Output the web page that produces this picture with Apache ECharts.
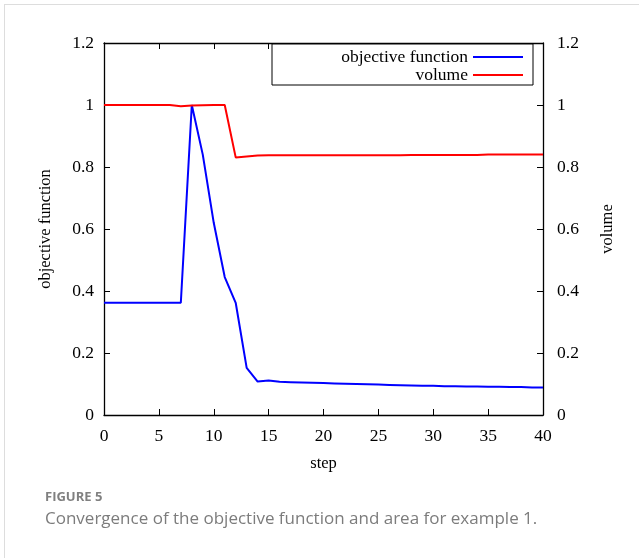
<!DOCTYPE html>
<html>
<head>
<meta charset="utf-8">
<script src="https://cdn.jsdelivr.net/npm/echarts@6/dist/echarts.min.js"></script>
<style>
  html, body { margin: 0; padding: 0; background: #fff; }
  #frame { position: absolute; left: 4px; top: 4px; width: 635px; height: 554px;
           border-top: 1px solid #ddd; border-left: 1px solid #ddd; box-sizing: border-box; }
  #chart { position: absolute; left: 0; top: 0; width: 639px; height: 558px; }
</style>
</head>
<body>
<div id="frame"></div>
<div id="chart"></div>
<script>
// 迭代步
const steps = []
for (let i = 0; i <= 40; i++) steps.push(i)

// 目标函数
const objective = [
    0.362, 0.362, 0.362, 0.362, 0.362, 0.362, 0.362, 0.362,
    1.0, 0.84, 0.62, 0.445, 0.362, 0.152, 0.108,
    0.111, 0.107, 0.106, 0.105, 0.104, 0.103, 0.102, 0.101, 0.100, 0.099,
    0.098, 0.097, 0.096, 0.095, 0.094, 0.094, 0.093, 0.093, 0.092, 0.092,
    0.091, 0.091, 0.090, 0.090, 0.089, 0.089
]

// 体积
const volume = [
    1.0, 1.0, 1.0, 1.0, 1.0, 1.0, 1.0, 0.996,
    0.998, 0.999, 1.0, 1.0, 0.831, 0.834, 0.837,
    0.838, 0.838, 0.838, 0.838, 0.838, 0.838, 0.838, 0.838, 0.838, 0.838,
    0.838, 0.838, 0.838, 0.839, 0.839, 0.839, 0.839, 0.839, 0.839, 0.839,
    0.840, 0.840, 0.840, 0.840, 0.840, 0.840
]

const serif = 'Liberation Serif'

function pairs(ys) {
    return steps.map((x, i) => [x, ys[i]])
}

const tickStyle = { show: true, inside: true, length: 6, lineStyle: { color: '#000', width: 1 } }
const lineStyle = { show: true, onZero: false, lineStyle: { color: '#000', width: 1.3 } }

const yAxisCommon = {
    type: 'value',
    min: 0,
    max: 1.2,
    interval: 0.2,
    nameLocation: 'middle',
    nameRotate: 90,
    nameTextStyle: { fontFamily: serif, fontSize: 16.5, color: '#000' },
    axisLine: lineStyle,
    axisTick: tickStyle,
    splitLine: { show: false }
}

const myChart = echarts.init(document.getElementById('chart'))

myChart.setOption({
    animation: false,
    title: [
        {
            text: 'FIGURE 5',
            left: 40,
            top: 486,
            textStyle: { fontFamily: 'Open Sans', fontSize: 13, fontWeight: 'bold', color: '#808080' }
        },
        {
            text: 'Convergence of the objective function and area for example 1.',
            left: 40,
            top: 506,
            textStyle: { fontFamily: 'Open Sans', fontSize: 17, fontWeight: 'normal', color: '#7c7c7c' }
        }
    ],
    grid: { left: 104, right: 96, top: 43, bottom: 143 },
    legend: {
        orient: 'vertical',
        right: 106,
        top: 44,
        align: 'right',
        icon: 'rect',
        padding: [4, 10, 1, 66],
        itemGap: 0,
        itemWidth: 50,
        itemHeight: 2,
        borderColor: '#000',
        borderWidth: 1,
        backgroundColor: '#fff',
        textStyle: { fontFamily: serif, fontSize: 17.5, color: '#000', width: 130, align: 'right', lineHeight: 17 },
        data: ['objective function', 'volume']
    },
    xAxis: [
        {
            type: 'value',
            min: 0,
            max: 40,
            interval: 5,
            name: 'step',
            nameLocation: 'middle',
            nameGap: 40,
            nameTextStyle: { fontFamily: serif, fontSize: 16.5, color: '#000' },
            axisLine: lineStyle,
            axisTick: tickStyle,
            axisLabel: { fontFamily: serif, fontSize: 17.5, color: '#000', margin: 12 },
            splitLine: { show: false }
        },
        {
            type: 'value',
            position: 'top',
            min: 0,
            max: 40,
            interval: 5,
            axisLine: lineStyle,
            axisTick: tickStyle,
            axisLabel: { show: false },
            splitLine: { show: false }
        }
    ],
    yAxis: [
        Object.assign({}, yAxisCommon, {
            name: 'objective function', position: 'left', nameGap: 50,
            axisLabel: { fontFamily: serif, fontSize: 17.5, color: '#000', margin: 10 }
        }),
        Object.assign({}, yAxisCommon, {
            name: 'volume', position: 'right', nameGap: 56,
            axisLabel: { fontFamily: serif, fontSize: 17.5, color: '#000', margin: 14 }
        })
    ],
    series: [
        {
            name: 'objective function',
            type: 'line',
            xAxisIndex: 0,
            yAxisIndex: 0,
            symbol: 'none',
            color: '#0000ff',
            lineStyle: { width: 2, color: '#0000ff' },
            data: pairs(objective)
        },
        {
            name: 'volume',
            type: 'line',
            xAxisIndex: 0,
            yAxisIndex: 1,
            symbol: 'none',
            color: '#ff0000',
            lineStyle: { width: 2, color: '#ff0000' },
            data: pairs(volume)
        }
    ]
})
</script>
</body>
</html>
